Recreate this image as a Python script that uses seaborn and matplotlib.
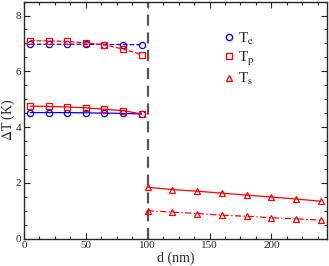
import numpy as np
import pandas as pd
import matplotlib
matplotlib.use('Agg')
import matplotlib.pyplot as plt
import seaborn as sns
from matplotlib.ticker import MultipleLocator

# ---------------------------- DATA ----------------------------
d_left = [5, 20, 35, 50, 65, 80, 95]
te_top = [6.97, 6.97, 6.97, 6.97, 6.96, 6.96, 6.95]
tp_top = [7.10, 7.09, 7.07, 7.02, 6.95, 6.80, 6.60]
te_bot = [4.52, 4.52, 4.52, 4.51, 4.50, 4.49, 4.47]
tp_bot = [4.75, 4.74, 4.72, 4.69, 4.64, 4.59, 4.47]

d_right = [100, 120, 140, 160, 180, 200, 220, 240]
ts_top = [1.84, 1.76, 1.70, 1.63, 1.56, 1.49, 1.42, 1.34]
ts_bot = [1.00, 0.95, 0.90, 0.84, 0.80, 0.75, 0.71, 0.66]

# ---------------------------- PLOT ----------------------------
sns.set_style('ticks')
plt.rcParams['font.family'] = ['Liberation Serif', 'DejaVu Serif']
plt.rcParams['mathtext.fontset'] = 'stix'

fig = plt.figure(figsize=(3.29, 2.66), dpi=100)
ax = fig.add_axes([0.073, 0.103, 0.921, 0.891])

ax.axvline(100, color='#555555', lw=1.6, ls=(0, (5, 3)), zorder=1)

def draw(x, y, color, marker, ls):
    # seaborn paints marker edges white by default, so force the colour
    sns.lineplot(x=x, y=y, ax=ax, color=color, marker=marker, ls=ls, lw=0.9,
                 markersize=4.5, markerfacecolor='none', markeredgecolor=color,
                 markeredgewidth=0.9)

draw(d_left, te_top, 'blue', 'o', '--')
draw(d_left, tp_top, 'red', 's', '--')
draw(d_left, te_bot, 'blue', 'o', '-')
draw(d_left, tp_bot, 'red', 's', '-')
draw(d_right, ts_top, 'red', '^', '-')
draw(d_right, ts_bot, 'red', '^', (0, (5, 2, 1, 2)))

# legend with markers only
h1, = ax.plot([], [], 'o', color='blue', mfc='none', ms=4.5)
h2, = ax.plot([], [], 's', color='red', mfc='none', ms=4.5)
h3, = ax.plot([], [], '^', color='red', mfc='none', ms=4.5)
ax.legend([h1, h2, h3], [r'T$_{\rm e}$', r'T$_{\rm p}$', r'T$_{\rm s}$'],
          loc='upper left', bbox_to_anchor=(0.6, 0.935), frameon=False,
          fontsize=11, handletextpad=0.0, handlelength=1.2, labelspacing=0.2)

ax.set_xlim(0, 245)
ax.set_ylim(0, 8.5)
ax.xaxis.set_major_locator(MultipleLocator(50))
ax.xaxis.set_minor_locator(MultipleLocator(12.5))
ax.yaxis.set_major_locator(MultipleLocator(2))
ax.yaxis.set_minor_locator(MultipleLocator(0.5))
ax.tick_params(which='both', direction='in', top=True, right=True, labelsize=8, width=0.8)
ax.tick_params(which='major', length=4, pad=2)
ax.tick_params(which='minor', length=2)
for s in ax.spines.values():
    s.set_linewidth(1.0)

ax.set_xlabel('d (nm)', fontsize=10, labelpad=1)
ax.set_ylabel(r'$\Delta$T (K)', fontsize=10)
ax.yaxis.set_label_coords(-0.024, 0.5)

fig.savefig('out.png', dpi=100)
